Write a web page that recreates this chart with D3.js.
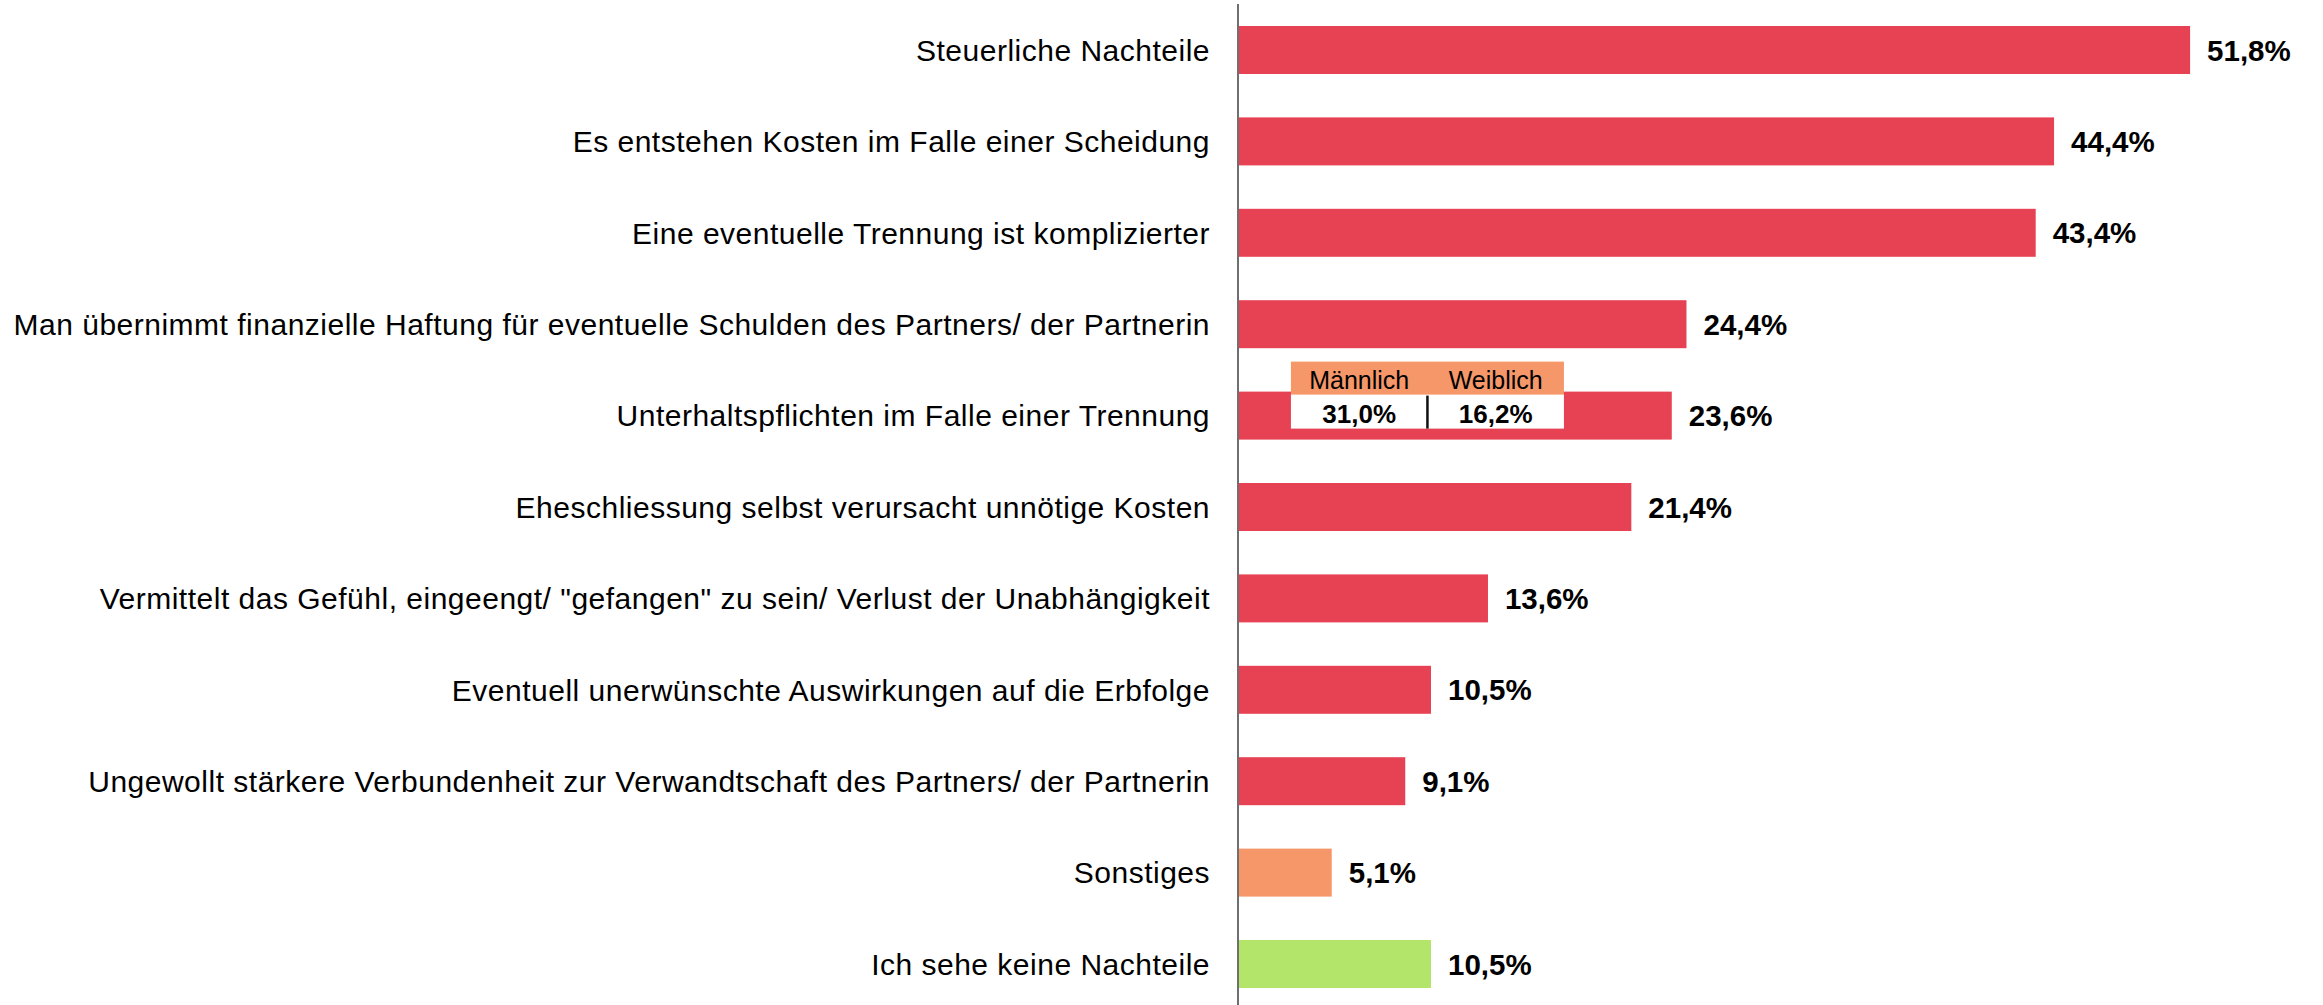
<!DOCTYPE html>
<html>
<head>
    <meta charset="utf-8">
    <title>Nachteile der Ehe</title>
    <script src="https://d3js.org/d3.v7.min.js"></script>
    <style>
      body { margin: 0; background: #fff; }
      text { font-family: "Liberation Sans", Arial, sans-serif; fill: #000; }
    </style>
</head>
<body>
    <svg width="2323" height="1005"></svg>

    <script>
      // data
      const categories = [
        "Steuerliche Nachteile",
        "Es entstehen Kosten im Falle einer Scheidung",
        "Eine eventuelle Trennung ist komplizierter",
        "Man übernimmt finanzielle Haftung für eventuelle Schulden des Partners/ der Partnerin",
        "Unterhaltspflichten im Falle einer Trennung",
        "Eheschliessung selbst verursacht unnötige Kosten",
        "Vermittelt das Gefühl, eingeengt/ \"gefangen\" zu sein/ Verlust der Unabhängigkeit",
        "Eventuell unerwünschte Auswirkungen auf die Erbfolge",
        "Ungewollt stärkere Verbundenheit zur Verwandtschaft des Partners/ der Partnerin",
        "Sonstiges",
        "Ich sehe keine Nachteile"
      ];
      const values = [51.8, 44.4, 43.4, 24.4, 23.6, 21.4, 13.6, 10.5, 9.1, 5.1, 10.5];
      const groups = ["nachteil", "nachteil", "nachteil", "nachteil", "nachteil", "nachteil",
                      "nachteil", "nachteil", "nachteil", "sonstiges", "keine"];

      // Aufteilung nach Geschlecht für "Unterhaltspflichten"
      const splitCategory = "Unterhaltspflichten im Falle einer Trennung";
      const splitLabels = ["Männlich", "Weiblich"];
      const splitValues = [31.0, 16.2];

      const fmt = v => d3.format(".1f")(v).replace(".", ",") + "%";

      const svg = d3.select("svg");
      const axisX = 1238;

      const x = d3.scaleLinear().domain([0, 100]).range([axisX, axisX + 1838]);
      const y = d3.scaleBand()
        .domain(categories)
        .range([4.3, 1009.7])
        .paddingInner(0.475)
        .paddingOuter(0.2375);
      const color = d3.scaleOrdinal()
        .domain(["nachteil", "sonstiges", "keine"])
        .range(["#e64253", "#f59769", "#b2e56a"]);

      // Balken
      svg.selectAll(".bar")
        .data(values)
        .enter().append("rect")
        .attr("class", "bar")
        .attr("x", x(0))
        .attr("y", (d, i) => y(categories[i]))
        .attr("width", d => x(d) - x(0))
        .attr("height", y.bandwidth())
        .attr("fill", (d, i) => color(groups[i]));

      // Kategorien links
      svg.selectAll(".cat")
        .data(categories)
        .enter().append("text")
        .attr("class", "cat")
        .attr("x", axisX - 28)
        .attr("y", d => y(d) + y.bandwidth() / 2)
        .attr("dy", "0.36em")
        .attr("text-anchor", "end")
        .style("font-size", "30px")
        .style("letter-spacing", "0.5px")
        .text(d => d);

      // Werte rechts
      svg.selectAll(".val")
        .data(values)
        .enter().append("text")
        .attr("class", "val")
        .attr("x", d => x(d) + 17)
        .attr("y", (d, i) => y(categories[i]) + y.bandwidth() / 2)
        .attr("dy", "0.36em")
        .style("font-size", "29.5px")
        .style("font-weight", "bold")
        .text(d => fmt(d));

      // Achse
      svg.append("line")
        .attr("x1", axisX).attr("x2", axisX)
        .attr("y1", 4).attr("y2", 1005)
        .attr("stroke", "#6f6f6f")
        .attr("stroke-width", 2);

      // Kasten Männlich / Weiblich
      const bx = x(2.88), bw = 273, colW = bw / 2;
      const by = y(splitCategory) - 30;
      const box = svg.append("g").attr("transform", `translate(${bx},${by})`);
      box.append("rect")
        .attr("width", bw).attr("height", 34)
        .attr("fill", "#f59769");
      box.append("rect")
        .attr("y", 33).attr("width", bw).attr("height", 34)
        .attr("fill", "#fff");
      box.append("line")
        .attr("x1", colW).attr("x2", colW)
        .attr("y1", 34).attr("y2", 67)
        .attr("stroke", "#111")
        .attr("stroke-width", 2.5);
      box.selectAll(".hd")
        .data(splitLabels)
        .enter().append("text")
        .attr("x", (d, i) => colW * i + colW / 2)
        .attr("y", 27)
        .attr("text-anchor", "middle")
        .style("font-size", "25px")
        .text(d => d);
      box.selectAll(".sv")
        .data(splitValues)
        .enter().append("text")
        .attr("x", (d, i) => colW * i + colW / 2)
        .attr("y", 61)
        .attr("text-anchor", "middle")
        .style("font-size", "26px")
        .style("font-weight", "bold")
        .text(d => fmt(d));
    </script>
</body>
</html>
